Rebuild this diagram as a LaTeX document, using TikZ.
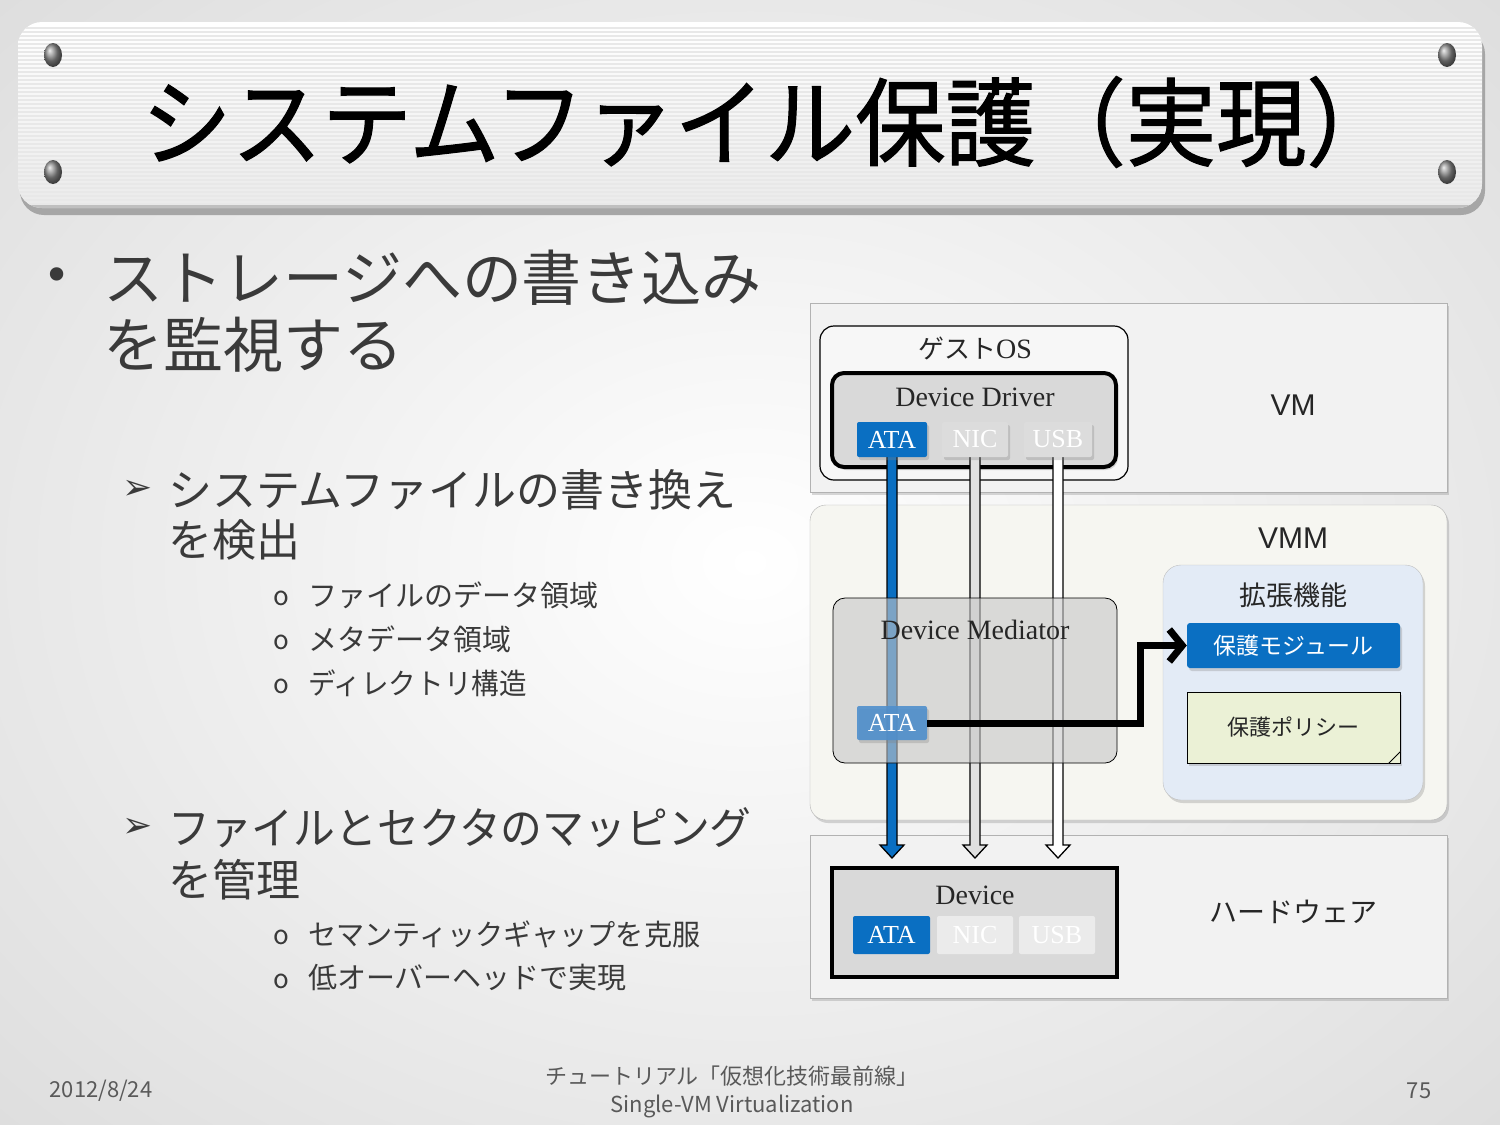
\documentclass[tikz,border=0pt]{standalone}
\usepackage{fontspec}
\setmainfont{Liberation Serif}
\setsansfont{Liberation Sans}
\newfontfamily\jp{Noto Sans CJK JP}
\newfontfamily\jpt[FakeBold=1.2]{Noto Sans CJK JP}
\newfontfamily\sym{DejaVu Sans}
\usetikzlibrary{shadows,arrows.meta,calc}
\definecolor{txt}{HTML}{3A3A3A}
\definecolor{ablue}{HTML}{0A6FC2}
\definecolor{mblue}{HTML}{4F8FCC}
\definecolor{btngray}{HTML}{DCDCDC}
\definecolor{ddgray}{HTML}{D9D9D9}
\definecolor{vmmfill}{HTML}{F6F6F1}
\definecolor{extfill}{HTML}{E3EBF6}
\definecolor{polfill}{HTML}{EBF1D6}
\newcommand\fs[1]{\fontsize{#1}{#1}\selectfont}
\newcommand\blkarrow[3]{%
  \fill[#3] let \p1=(#1.south), \p2=(#2) in
   (\x1-5pt,\y1+4pt) -- (\x1-5pt,\y2+13pt) -- (\x1-12pt,\y2+13pt) -- (\x1,\y2) -- (\x1+12pt,\y2+13pt) -- (\x1+5pt,\y2+13pt) -- (\x1+5pt,\y1+4pt) -- cycle;
  \draw[line width=1.3pt, line join=miter] let \p1=(#1.south), \p2=(#2) in
   (\x1-5pt,\y1+4pt) -- (\x1-5pt,\y2+13pt) -- (\x1-12pt,\y2+13pt) -- (\x1,\y2) -- (\x1+12pt,\y2+13pt) -- (\x1+5pt,\y2+13pt) -- (\x1+5pt,\y1+4pt);}
\begin{document}
\begin{tikzpicture}[x=1pt,y=-1pt,
  shd/.style={drop shadow={shadow xshift=2pt,shadow yshift=-3pt,opacity=0.3}},
  layerbox/.style={draw=black!30, fill=black!5, shd, inner sep=0pt},
  btn/.style={inner sep=0pt, minimum height=35, text=white, font=\fs{26}, rounded corners=2},
  bull1/.style={anchor=west, text=txt, font=\jp\fs{60}, inner sep=0pt},
  bull2/.style={anchor=west, text=txt, font=\jp\fs{44}, inner sep=0pt},
  bull3/.style={anchor=west, text=txt, font=\jp\fs{29}, inner sep=0pt},
  mark2/.style={text=txt, font=\sym\fs{36}, inner sep=0pt},
  mark3/.style={text=txt, font=\jp\fs{26}, inner sep=0pt},
  foot/.style={text=black!65, font=\jp\fs{22}, inner sep=0pt},
  lbl/.style={inner sep=0pt, text=black!85}
]
\useasboundingbox (0,0) rectangle (1500,1125);
% background
\shade[inner color=white, outer color=black!13] (-300,-250) rectangle (1800,1375);
% banner
\fill[black!35, rounded corners=24] (20,30) rectangle (1485,215);
\shade[top color=white, bottom color=black!8, rounded corners=24] (18,22) rectangle (1482,208);
\begin{scope}
  \clip[rounded corners=24] (18,22) rectangle (1482,208);
  \foreach \yy in {28,32,...,204} \draw[black!9, line width=1.3pt] (18,\yy) -- (1482,\yy);
  \draw[black!25, line width=3pt] (18,206) -- (1482,206);
\end{scope}
\foreach \sx/\sy in {53/55,53/172,1447/55,1447/172}
  \shade[ball color=black!45] (\sx,\sy) ellipse (9 and 12);
\node[text=black] (title) at (769,122) {\jpt\fs{96}\scalebox{0.94}[1]{システムファイル保護（実現）}};
% bullets
\node[text=txt, font=\sym\fs{46}, inner sep=0pt] (b1) at (57,280) {•};
\node[bull1] (t1a) at (103,278) {ストレージへの書き込み};
\node[bull1] (t1b) at (103,345) {を監視する};
\node[mark2] (m2a) at (138,490) {➢};
\node[bull2] (t2a) at (168,490) {システムファイルの書き換え};
\node[bull2] (t2b) at (168,540) {を検出};
\node[mark3] (m3a) at (281,598) {o};
\node[bull3] (t3a) at (308,595) {ファイルのデータ領域};
\node[mark3] (m3b) at (281,642) {o};
\node[bull3] (t3b) at (308,639) {メタデータ領域};
\node[mark3] (m3c) at (281,686) {o};
\node[bull3] (t3c) at (308,683) {\scalebox{0.95}[1]{ディレクトリ構造}};
\node[mark2] (m2b) at (138,828) {➢};
\node[bull2] (t4a) at (168,828) {\scalebox{0.95}[1]{ファイルとセクタのマッピング}};
\node[bull2] (t4b) at (168,880) {を管理};
\node[mark3] (m3d) at (281,937) {o};
\node[bull3] (t5a) at (308,934) {\scalebox{0.97}[1]{セマンティックギャップを克服}};
\node[mark3] (m3e) at (281,981) {o};
\node[bull3] (t5b) at (308,978) {低オーバーヘッドで実現};
% footer
\node[foot] (date) at (101,1091) {2012/8/24};
\node[foot] (ft1) at (732,1076) {チュートリアル「仮想化技術最前線」};
\node[foot] (ft2) at (732,1106) {Single-VM Virtualization};
\node[foot] (pg) at (1419,1091) {75};
% layers
\node[layerbox, minimum width=637, minimum height=189] (vm) at (1128.5,397.5) {};
\node[layerbox, fill=vmmfill, rounded corners=16, minimum width=637, minimum height=315] (vmm) at (1128.5,662.5) {};
\node[layerbox, minimum width=637, minimum height=163] (hw) at (1128.5,916.5) {};
\node[lbl, font=\fs{30}\sffamily] (vmlbl) at (1293,405) {VM};
\node[lbl, font=\fs{30}\sffamily] (vmmlbl) at (1293,538) {VMM};
\node[lbl, font=\jp\fs{28}] (hwlbl) at (1293,912) {ハードウェア};
% guest OS
\node[draw=black, line width=1.2pt, fill=white!97!black, rounded corners=14, minimum width=308, minimum height=154, inner sep=0pt] (gos) at (974,403) {};
\node[lbl, font=\fs{28}] (goslbl) at (975,348) {{\jp\fs{26}ゲスト}OS};
\node[draw=black, line width=4pt, fill=ddgray, rounded corners=12, minimum width=284, minimum height=94, inner sep=0pt, shd] (dd) at (974,420) {};
\node[lbl, font=\fs{28}] (ddlbl) at (975,397) {Device Driver};
% extension
\node[draw=black!25, fill=extfill, rounded corners=18, minimum width=260, minimum height=235, inner sep=0pt, shd] (ext) at (1293,682.5) {};
\node[lbl, font=\jp\fs{27}] (extlbl) at (1293,595) {拡張機能};
\node[fill=ablue, rounded corners=3, minimum width=213, minimum height=45, inner sep=0pt, text=white, font=\jp\fs{23}, shd] (mod) at (1293.5,645.5) {保護モジュール};
\node[draw=black, line width=1pt, fill=polfill, minimum width=213, minimum height=71, inner sep=0pt, text=black!85, font=\jp\fs{22}, shd] (pol) at (1293.5,727.5) {保護ポリシー};
\draw[fill=white, line width=0.8pt] ($(pol.south east)+(-12,0)$) -- ($(pol.south east)+(0,-12)$) -- ($(pol.south east)+(-9,-3)$) -- cycle;
% arrow ends
\coordinate (ataEnd) at (891,858);
\coordinate (nicEnd) at (975,858);
\coordinate (usbEnd) at (1058,858);
% button anchors
\path (892,439.5) node[btn, minimum width=70] (ata) {};
\path (975,439.5) node[btn, minimum width=66] (nic) {};
\path (1058,439.5) node[btn, minimum width=68] (usb) {};
\blkarrow{ata}{ataEnd}{ablue}
\blkarrow{nic}{nicEnd}{black!12}
\blkarrow{usb}{usbEnd}{white}
\node[btn, fill=ablue, minimum width=70, shd] (ata2) at (892,439.5) {ATA};
\node[btn, fill=btngray, minimum width=66, shd] (nic2) at (975,439.5) {NIC};
\node[btn, fill=btngray, minimum width=68, shd] (usb2) at (1058,439.5) {USB};
% mediator
\node[draw=black, line width=0.8pt, fill=black!22, fill opacity=0.6, rounded corners=12, minimum width=284, minimum height=165, inner sep=0pt] (med) at (975,680.5) {};
\node[lbl, font=\fs{28}] (medlbl) at (975,630) {Device Mediator};
\node[btn, fill=mblue, fill opacity=0.9, text opacity=1, minimum width=70, minimum height=34, shd] (medata) at (892,723) {ATA};
\draw[line width=7pt, -{Straight Barb[length=13pt,width=32pt]}] (medata.east) -- ++(213,0) |- (mod.west);
% device
\node[draw=black, line width=4pt, fill=ddgray, minimum width=285, minimum height=109, inner sep=0pt] (dev) at (974.5,922.5) {};
\node[lbl, font=\fs{28}] (devlbl) at (975,895) {Device};
\node[btn, fill=ablue, minimum width=77, minimum height=38] (data) at (891.5,935) {ATA};
\node[btn, fill=black!8, minimum width=76, minimum height=38] (dnic) at (975,935) {NIC};
\node[btn, fill=black!8, minimum width=76, minimum height=38] (dusb) at (1057,935) {USB};
\end{tikzpicture}
\end{document}
